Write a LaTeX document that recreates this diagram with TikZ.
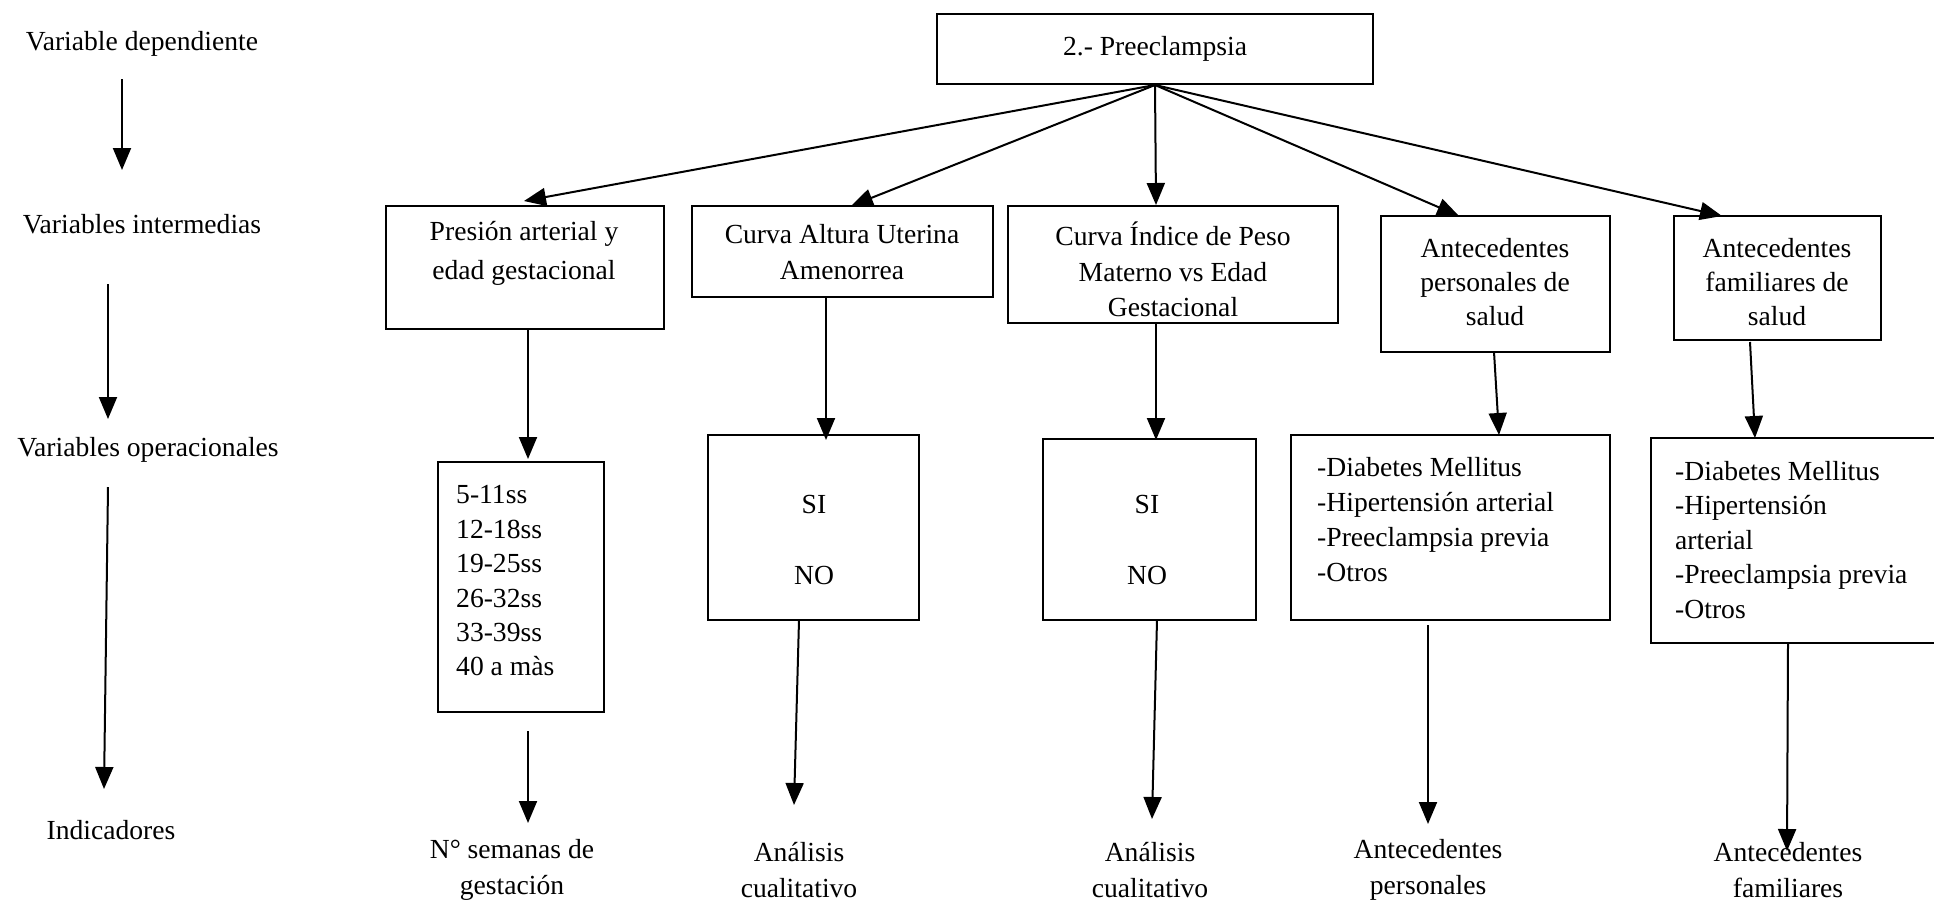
\documentclass[tikz,border=0pt]{standalone}
\usepackage{fontspec}
\setmainfont{Liberation Serif}
\usetikzlibrary{arrows.meta}
\begin{document}
\begin{tikzpicture}[x=1pt,y=-1pt,
  txt/.style={inner sep=0pt,font=\fontsize{27.6}{36}\selectfont},
  box/.style={draw,line width=2pt,inner sep=0pt},
  arr/.style={line width=2pt,-{Triangle[length=22pt,width=18pt]}}]
\useasboundingbox (0,0) rectangle (1934,903);
\clip (0,0) rectangle (1934,903);
% left labels
\node[txt] (l1) at (142,44) {Variable dependiente};
\node[txt] (l2) at (142,224) {Variables intermedias};
\node[txt] (l3) at (148,450) {Variables operacionales};
\node[txt] (l4) at (111,830) {Indicadores};
\coordinate (l1s) at (122,79); \coordinate (l1e) at (122,170);
\coordinate (l2s) at (108,284); \coordinate (l2e) at (108,419);
\coordinate (l3s) at (108,487); \coordinate (l3e) at (104,789);
\draw[arr] (l1s) -- (l1e);
\draw[arr] (l2s) -- (l2e);
\draw[arr] (l3s) -- (l3e);
% top box
\node[box,minimum width=436pt,minimum height=70pt,txt,draw,line width=2pt] (top) at (1155,49) {2.- Preeclampsia};
% row 2 boxes
\node[box,minimum width=278pt,minimum height=123pt] (b1) at (525,267.5) {};
\node[box,minimum width=301pt,minimum height=91pt] (b2) at (842.5,251.5) {};
\node[box,minimum width=330pt,minimum height=117pt] (b3) at (1173,264.5) {};
\node[box,minimum width=229pt,minimum height=136pt] (b4) at (1495.5,284) {};
\node[box,minimum width=207pt,minimum height=124pt] (b5) at (1777.5,278) {};
\node[txt,align=center,font=\fontsize{27.6}{39}\selectfont] (t1) at (524,253.5) {Presión arterial y\\edad gestacional};
\node[txt,align=center] (t2) at (842,252) {Curva Altura Uterina\\Amenorrea};
\node[txt,align=center,font=\fontsize{27.6}{35.5}\selectfont] (t3) at (1173,269.5) {Curva Índice de Peso\\Materno vs Edad\\Gestacional};
\node[txt,align=center,font=\fontsize{27.6}{34}\selectfont] (t4) at (1495,282) {Antecedentes\\personales de\\salud};
\node[txt,align=center,font=\fontsize{27.6}{34}\selectfont] (t5) at (1777,282) {Antecedentes\\familiares de\\salud};
% arrows from top
\coordinate (e1) at (524,201);
\coordinate (e2) at (851,206);
\coordinate (e3) at (1156,205);
\coordinate (e4) at (1459,216);
\coordinate (e5) at (1722,216);
\foreach \e in {e1,e2,e3,e4,e5} \draw[arr] (top.south) -- (\e);
% row 3 boxes
\node[box,minimum width=166pt,minimum height=250pt] (c1) at (521,587) {};
\node[box,minimum width=211pt,minimum height=185pt] (c2) at (813.5,527.5) {};
\node[box,minimum width=213pt,minimum height=181pt] (c3) at (1149.5,529.5) {};
\node[box,minimum width=319pt,minimum height=185pt] (c4) at (1450.5,527.5) {};
\node[box,minimum width=309pt,minimum height=205pt] (c5) at (1805.5,540.5) {};
\node[txt,align=left,anchor=west,font=\fontsize{27.6}{34.4}\selectfont] (u1) at (456,581) {5-11ss\\12-18ss\\19-25ss\\26-32ss\\33-39ss\\40 a màs};
\node[txt,align=center,font=\fontsize{27.6}{71}\selectfont] (u2) at (814,539.5) {SI\\NO};
\node[txt,align=center,font=\fontsize{27.6}{71}\selectfont] (u3) at (1147,539.5) {SI\\NO};
\node[txt,align=left,anchor=west,font=\fontsize{27.6}{35}\selectfont] (u4) at (1317,519.5) {-Diabetes Mellitus\\-Hipertensión arterial\\-Preeclampsia previa\\-Otros};
\node[txt,align=left,anchor=west,font=\fontsize{27.6}{34.5}\selectfont] (u5) at (1675,540) {-Diabetes Mellitus\\-Hipertensión\\arterial\\-Preeclampsia previa\\-Otros};
% row2 -> row3
\coordinate (s1) at (528,329); \coordinate (f1) at (528,459);
\coordinate (s2) at (826,297); \coordinate (f2) at (826,440);
\coordinate (s3) at (1156,323); \coordinate (f3) at (1156,440);
\coordinate (s4) at (1494,352); \coordinate (f4) at (1499,435);
\coordinate (s5) at (1750,342); \coordinate (f5) at (1755,438);
\foreach \i in {1,...,5} \draw[arr] (s\i) -- (f\i);
% indicators
\node[txt,align=center] (i1) at (512,870) {N° semanas de\\gestación};
\node[txt,align=center] (i2) at (799,870) {Análisis\\cualitativo};
\node[txt,align=center] (i3) at (1150,870) {Análisis\\cualitativo};
\node[txt,align=center] (i4) at (1428,870) {Antecedentes\\personales};
\node[txt,align=center] (i5) at (1788,870) {Antecedentes\\familiares};
% row3 -> indicators
\coordinate (g1) at (528,731); \coordinate (h1) at (528,823);
\coordinate (g2) at (799,620); \coordinate (h2) at (794,805);
\coordinate (g3) at (1157,620); \coordinate (h3) at (1152,819);
\coordinate (g4) at (1428,625); \coordinate (h4) at (1428,824);
\coordinate (g5) at (1788,643); \coordinate (h5) at (1787,851);
\foreach \i in {1,...,5} \draw[arr] (g\i) -- (h\i);
\end{tikzpicture}
\end{document}
